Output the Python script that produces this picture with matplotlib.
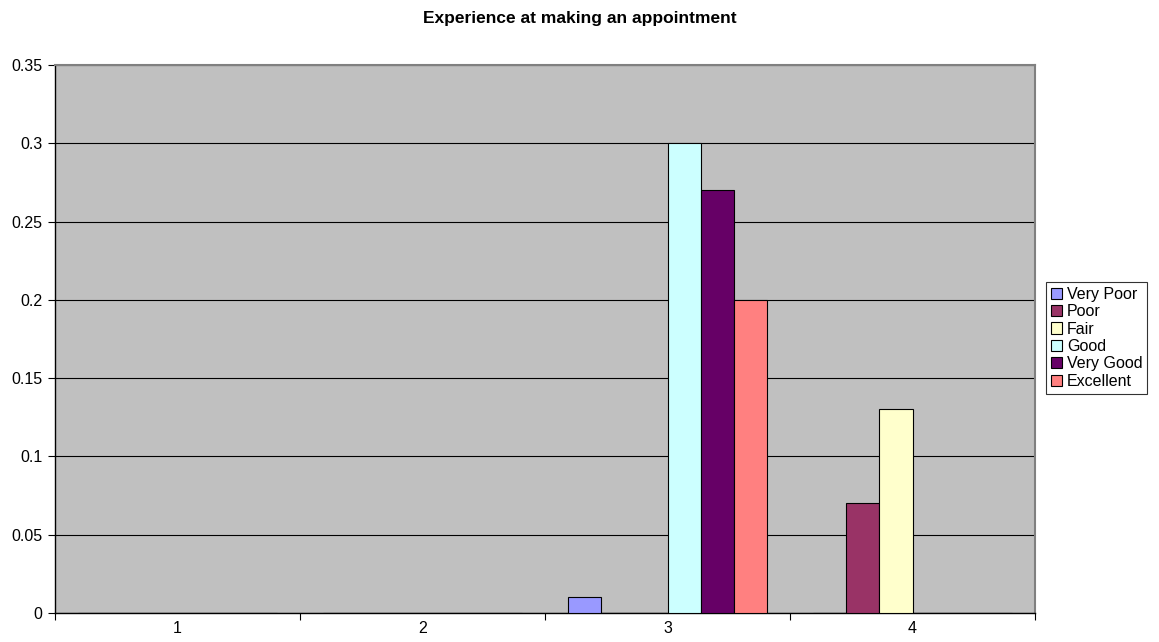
import numpy as np
import matplotlib
matplotlib.use("Agg")
from matplotlib import pyplot as plt

# data
categories = ["1", "2", "3", "4"]
series_names = ["Very Poor", "Poor", "Fair", "Good", "Very Good", "Excellent"]
very_poor = [0, 0, 0.01, 0]
poor = [0, 0, 0, 0.07]
fair = [0, 0, 0, 0.13]
good = [0, 0, 0.30, 0]
very_good = [0, 0, 0.27, 0]
excellent = [0, 0, 0.20, 0]
colors = ["#9999FF", "#993366", "#FFFFCC", "#CCFFFF", "#660066", "#FF8080"]

values = [very_poor, poor, fair, good, very_good, excellent]

plt.rcParams['font.family'] = ['Liberation Sans', 'DejaVu Sans']

fig = plt.figure(figsize=(11.59, 6.42), dpi=100)
ax = fig.add_axes([55 / 1159, 1 - 613 / 642, 980 / 1159, 548 / 642])
ax.set_facecolor("#C0C0C0")

x = np.arange(len(categories))
w = 0.1347
for i, (name, vals) in enumerate(zip(series_names, values)):
    pos = x + (i - 2.5) * w
    ax.bar(pos, vals, width=w, color=colors[i], edgecolor="black",
           linewidth=0.8, label=name, zorder=3)

ax.set_xlim(-0.5, 3.5)
ax.set_ylim(0, 0.35)
ax.set_yticks(np.arange(0, 0.351, 0.05))
ax.set_yticklabels(["0", "0.05", "0.1", "0.15", "0.2", "0.25", "0.3", "0.35"])
ax.yaxis.grid(True, color="black", linewidth=0.8, zorder=1)

# category ticks between groups, labels centered
ax.set_xticks(np.arange(-0.5, 3.6, 1))
ax.set_xticklabels([])
ax.set_xticks(x, minor=True)
ax.set_xticklabels(categories, minor=True)
ax.tick_params(which="both", labelsize=11.5)
ax.tick_params(axis="x", which="minor", length=0, pad=6)
ax.tick_params(axis="x", which="major", length=5, direction="out", color="black")
ax.tick_params(axis="y", length=5, direction="out", color="black", pad=4)

for side in ["top", "right"]:
    ax.spines[side].set_color("#808080")
    ax.spines[side].set_linewidth(1.5)
for side in ["left", "bottom"]:
    ax.spines[side].set_linewidth(1.0)

fig.text(0.5, 1 - 19 / 642, "Experience at making an appointment",
         ha="center", va="center", fontsize=12.5, fontweight="bold")

leg = ax.legend(loc="upper left", bbox_to_anchor=(1046 / 1159, 1 - 282 / 642),
                bbox_transform=fig.transFigure, fontsize=11.5,
                frameon=True, fancybox=False, edgecolor="black",
                handlelength=0.7, handleheight=0.7, handletextpad=0.3,
                labelspacing=0.15, borderpad=0.3, borderaxespad=0)
leg.get_frame().set_linewidth(0.8)

fig.savefig("out.png", dpi=100)
